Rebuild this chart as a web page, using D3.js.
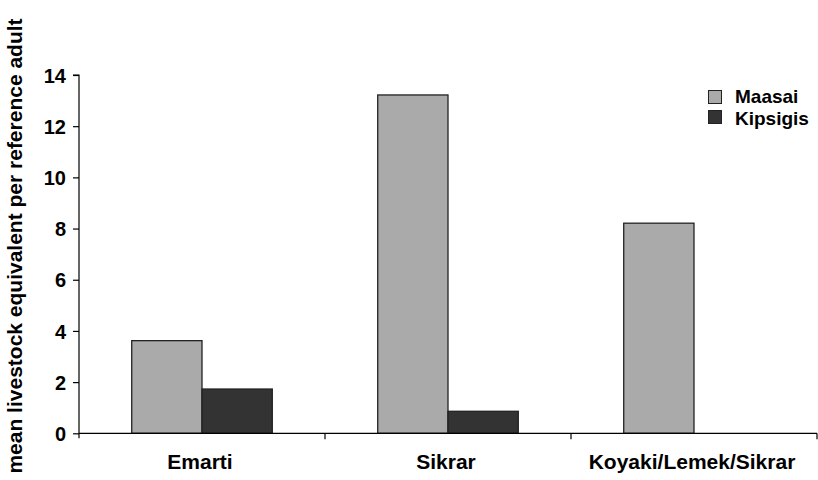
<!DOCTYPE html>
<html><head><meta charset="utf-8">
<script src="https://cdn.jsdelivr.net/npm/d3@7"></script>
<style>body{margin:0;background:#fff}svg{display:block}text{font-family:"Liberation Sans",Arial,sans-serif;font-weight:bold;fill:#000}</style>
</head><body>
<svg id="c" width="818" height="480"></svg>
<script>
const categories = ["Emarti", "Sikrar", "Koyaki/Lemek/Sikrar"];
const seriesNames = ["Maasai", "Kipsigis"];
const maasai = [3.62, 13.22, 8.21];
const kipsigis = [1.73, 0.86, null];
const yTicks = [0, 2, 4, 6, 8, 10, 12, 14];
const yTitle = "mean livestock equivalent per reference adult";
const colors = ["#aaaaaa", "#333333"];

const svg = d3.select("#c");
const pLeft = 79, pRight = 817, pTop = 75, pBottom = 433.3;
const x0 = d3.scaleBand().domain(categories).range([pLeft, pRight]).padding(0);
const bw = x0.bandwidth();
const gap = 1.5; // gap width relative to bar width
const barW = bw / (2 + gap);
const x1 = d3.scaleBand().domain(seriesNames).range([barW * gap / 2, barW * gap / 2 + 2 * barW]).padding(0);
const y = d3.scaleLinear().domain([0, 14]).range([pBottom, pTop]);

const values = [maasai, kipsigis];
const data = [];
categories.forEach((c, i) => seriesNames.forEach((s, j) => {
  if (values[j][i] != null) data.push({c, s, v: values[j][i], j});
}));

svg.selectAll("rect.bar").data(data).enter().append("rect")
  .attr("class", "bar")
  .attr("x", d => x0(d.c) + x1(d.s))
  .attr("y", d => y(d.v))
  .attr("width", x1.bandwidth())
  .attr("height", d => y(0) - y(d.v))
  .attr("fill", d => colors[d.j])
  .attr("stroke", "#222").attr("stroke-width", 1.3);

// y axis
const ya = svg.append("g").attr("transform", `translate(${pLeft},0)`)
  .call(d3.axisLeft(y).tickValues(yTicks).tickSize(6).tickPadding(7));
ya.selectAll("text").style("font-size", "20px").attr("dy", "0.36em");
ya.selectAll("line,path").attr("stroke", "#000").attr("stroke-width", 1.2);
ya.select("path").attr("d", `M-6,${pTop}H0V${pBottom + 5}`);

// x axis
const boundaries = categories.map(c => x0(c)).concat([pRight]);
const xg = svg.append("g").attr("transform", `translate(0,${pBottom})`);
xg.append("line").attr("x1", pLeft).attr("x2", pRight).attr("stroke", "#000").attr("stroke-width", 1.2);
xg.selectAll("line.t").data(boundaries.slice(1)).enter().append("line").attr("class", "t")
  .attr("x1", d => d).attr("x2", d => d).attr("y1", 0).attr("y2", 6).attr("stroke", "#000").attr("stroke-width", 1.2);
xg.selectAll("text").data(categories).enter().append("text")
  .attr("x", d => x0(d) + bw / 2 - 2).attr("y", 36)
  .attr("text-anchor", "middle").style("font-size", "21px").text(d => d);

// y title
svg.append("text").attr("transform", "translate(22,246) rotate(-90)")
  .attr("text-anchor", "middle").style("font-size", "21px").text(yTitle);

// legend
const lg = svg.append("g");
seriesNames.forEach((s, i) => {
  lg.append("rect").attr("x", 708.5).attr("y", 90.5 + i * 20).attr("width", 13).attr("height", 13)
    .attr("fill", colors[i]).attr("stroke", "#222").attr("stroke-width", 1);
  lg.append("text").attr("x", 735).attr("y", 103 + i * 22).style("font-size", "19px").text(s);
});
</script>
</body></html>
